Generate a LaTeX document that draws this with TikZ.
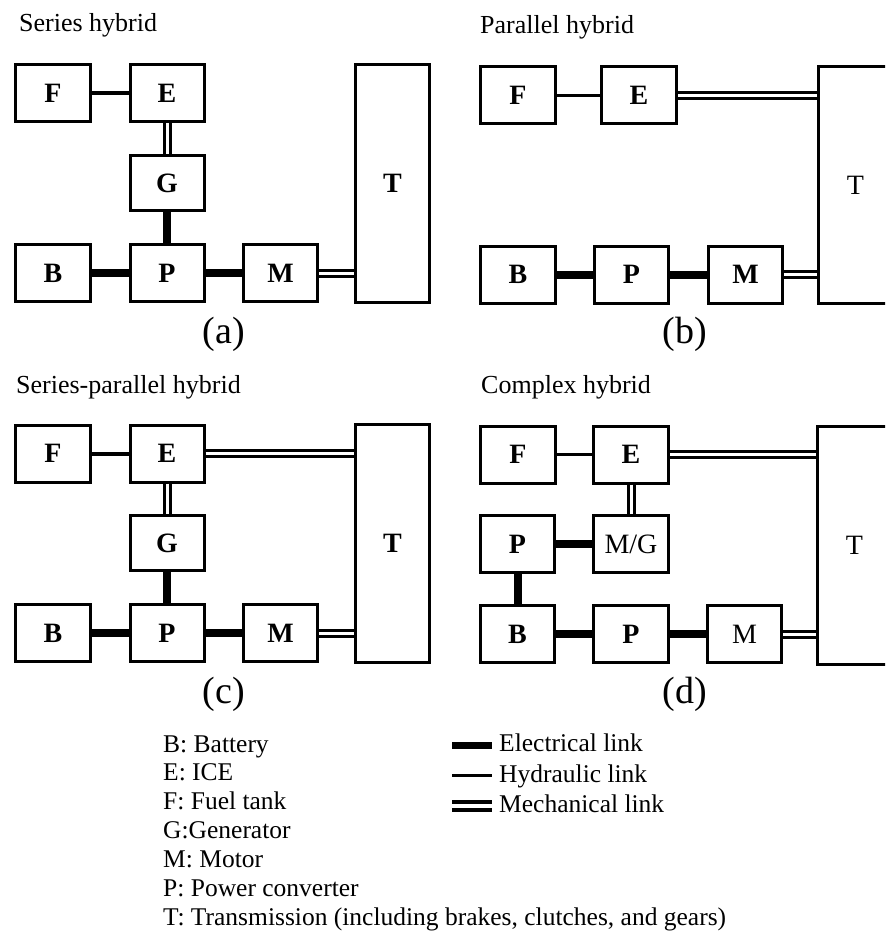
\documentclass[tikz,border=0pt]{standalone}
\usepackage{fontspec}
\setmainfont{Liberation Serif}
\begin{document}
\begin{tikzpicture}[x=1pt,y=-1pt,
  box/.style={draw,line width=3pt,minimum width=74pt,minimum height=57pt,inner sep=0pt,font=\fontsize{28}{30}\selectfont\bfseries},
  reg/.style={font=\fontsize{28}{30}\selectfont},
  elec/.style={line width=8pt},
  hyd/.style={line width=4pt},
  hydthin/.style={line width=3pt},
  mech/.style={line width=3pt,double=white,double distance=3pt},
  title/.style={anchor=base west,inner sep=0pt,font=\fontsize{26}{29}\selectfont},
  sub/.style={anchor=base,inner sep=0pt,font=\fontsize{38}{40}\selectfont},
  leg/.style={anchor=base west,inner sep=0pt,font=\fontsize{25.5}{29}\selectfont}]
\clip (0,0) rectangle (885,933);
\fill[white] (0,0) rectangle (885,933);

% (a) Series hybrid
\node[title] (ta) at (19,32) {Series hybrid};
\node[box,minimum width=75pt] (aF) at (53,93.5) {F};
\node[box] (aE) at (167,93.5) {E};
\node[box,minimum height=55pt] (aG) at (167,183) {G};
\node[box,minimum width=75pt] (aB) at (53,273) {B};
\node[box] (aP) at (167,273) {P};
\node[box] (aM) at (280.5,273) {M};
\node[box,minimum height=238pt] (aT) at (392.5,183.5) {T};
\draw[hyd] (aF) -- (aE);
\draw[mech] (aE) -- (aG);
\draw[elec] (aG) -- (aP);
\draw[elec] (aB) -- (aP);
\draw[elec] (aP) -- (aM);
\draw[mech] (aM) -- (aT.west |- aM);
\node[sub] (la) at (224,343) {(a)};

% (b) Parallel hybrid
\node[title] (tb) at (480,34) {Parallel hybrid};
\node[box,minimum width=75pt] (bF) at (518,95.5) {F};
\node[box,minimum width=75pt] (bE) at (639,95.5) {E};
\node[box,minimum width=75pt] (bB) at (518,274.5) {B};
\node[box] (bP) at (631.5,274.5) {P};
\node[box] (bM) at (745.5,274.5) {M};
\node[box,reg,minimum height=237pt] (bT) at (855.5,185) {T};
\draw[hydthin] (bF) -- (bE);
\draw[mech] (bE) -- (bT.west |- bE);
\draw[elec] (bB) -- (bP);
\draw[elec] (bP) -- (bM);
\draw[mech] (bM) -- (bT.west |- bM);
\node[sub] (lb) at (685,343) {(b)};

% (c) Series-parallel hybrid
\node[title] (tc) at (16,393) {Series-parallel hybrid};
\node[box,minimum width=75pt] (cF) at (53,453.5) {F};
\node[box] (cE) at (167,453.5) {E};
\node[box,minimum height=55pt] (cG) at (167,543) {G};
\node[box,minimum width=75pt] (cB) at (53,633) {B};
\node[box] (cP) at (167,633) {P};
\node[box] (cM) at (280.5,633) {M};
\node[box,minimum height=238pt] (cT) at (392.5,543.5) {T};
\draw[hyd] (cF) -- (cE);
\draw[mech] (cE) -- (cT.west |- cE);
\draw[mech] (cE) -- (cG);
\draw[elec] (cG) -- (cP);
\draw[elec] (cB) -- (cP);
\draw[elec] (cP) -- (cM);
\draw[mech] (cM) -- (cT.west |- cM);
\node[sub] (lc) at (224,703) {(c)};

% (d) Complex hybrid
\node[title] (td) at (481,393) {Complex hybrid};
\node[box,minimum width=75pt] (dF) at (518,454.5) {F};
\node[box,minimum width=75pt] (dE) at (631,454.5) {E};
\node[box] (dP1) at (517.5,544) {P};
\node[box,reg,minimum width=75pt] (dMG) at (631,544) {M/G};
\node[box] (dB) at (517.5,634) {B};
\node[box,minimum width=75pt] (dP2) at (631,634) {P};
\node[box,reg] (dM) at (744.5,634) {M};
\node[box,reg,minimum height=238pt] (dT) at (854.5,545.5) {T};
\draw[hydthin] (dF) -- (dE);
\draw[mech] (dE) -- (dT.west |- dE);
\draw[mech] (dE) -- (dMG);
\draw[elec] (dP1) -- (dMG);
\draw[elec] (dP1) -- (dB);
\draw[elec] (dB) -- (dP2);
\draw[elec] (dP2) -- (dM);
\draw[mech] (dM) -- (dT.west |- dM);
\node[sub] (ld) at (685,703) {(d)};

% Legend (abbreviations)
\node[leg] (k1) at (163,752) {B: Battery};
\node[leg] (k2) at (163,780.8) {E: ICE};
\node[leg] (k3) at (163,809.7) {F: Fuel tank};
\node[leg] (k4) at (163,838.5) {G:Generator};
\node[leg] (k5) at (163,867.3) {M: Motor};
\node[leg] (k6) at (163,896.2) {P: Power converter};
\node[leg] (k7) at (163,925) {T: Transmission (including brakes, clutches, and gears)};

% Legend (links)
\coordinate (e1) at (452,745); \coordinate (e2) at (492,745);
\coordinate (h1) at (452,775); \coordinate (h2) at (492,775);
\coordinate (m1) at (452,805.5); \coordinate (m2) at (492,805.5);
\draw[line width=7pt] (e1) -- (e2);
\draw[line width=3pt] (h1) -- (h2);
\draw[line width=4pt,double=white,double distance=4pt] (m1) -- (m2);
\node[leg] (le) at (499,751) {Electrical link};
\node[leg] (lh) at (499,782) {Hydraulic link};
\node[leg] (lm) at (499,812) {Mechanical link};
\end{tikzpicture}
\end{document}
